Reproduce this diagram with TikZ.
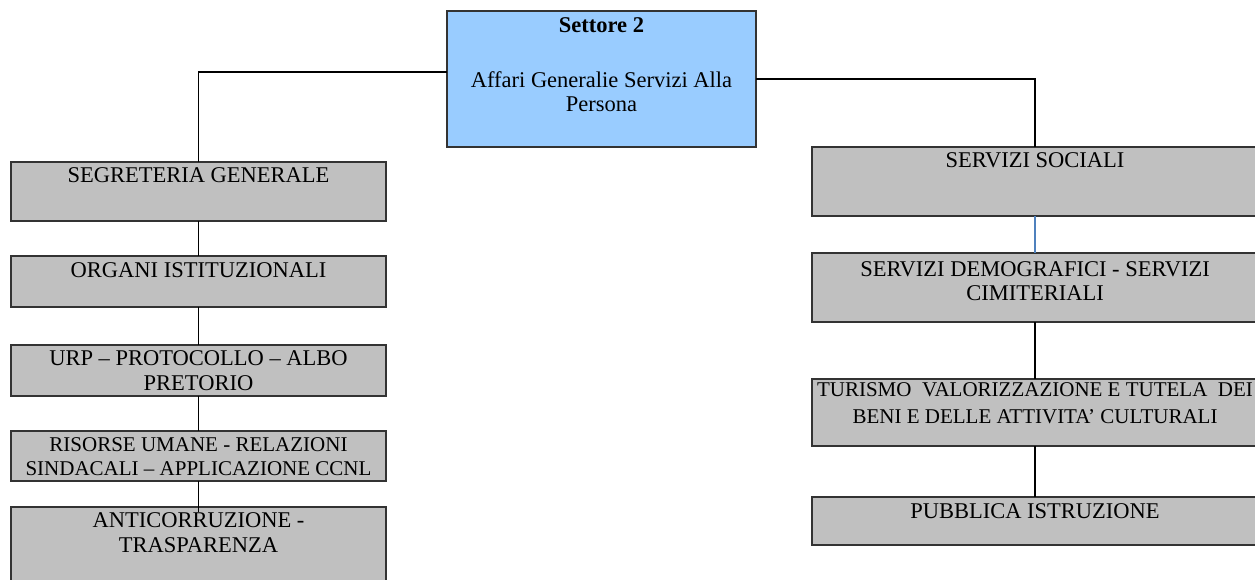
\documentclass[tikz,border=0pt]{standalone}
\usepackage{fontspec}
\setmainfont{Liberation Serif}
\definecolor{boxgray}{HTML}{C0C0C0}
\definecolor{boxblue}{HTML}{99CCFF}
\definecolor{linkblue}{HTML}{4F81BD}
\tikzset{
    RB1/.style ={rectangle, draw=black!80, line width=1.3pt, fill=boxgray, anchor=north, align=center, minimum width=375pt, inner xsep=2pt, inner ysep=0pt, outer sep=0pt, text height=21pt, font=\fontsize{22.5}{25}\selectfont},
    RB2/.style ={RB1, fill=boxblue, minimum width=309pt},
    RB3/.style ={RB1, minimum width=446pt},
    SM/.style ={font=\fontsize{21}{24}\selectfont},
    LN/.style ={line width=1.1pt}}

\begin{document}
\begin{tikzpicture}[x=1pt,y=-1pt]
        \useasboundingbox (0,0) rectangle (1255,580);
        \clip (0,0) rectangle (1255,580);
        \node[RB2, text height=101pt, text depth=35pt] (1) at(601.5,11){\textbf{Settore 2}\\[30pt]Affari Generalie Servizi Alla\\[-1pt]Persona};
        \node[RB1, text depth=38pt] (2) at(198.5,162){SEGRETERIA GENERALE};
        \node[RB1, text depth=30pt] (3) at(198.5,256){ORGANI ISTITUZIONALI};
        \node[RB1, text height=45pt, text depth=6pt] (4) at(198.5,345){URP -- PROTOCOLLO -- ALBO\\PRETORIO};
        \node[RB1, SM, text height=44pt, text depth=6pt] (5) at(198.5,431){RISORSE UMANE - RELAZIONI\\SINDACALI -- APPLICAZIONE CCNL};
        \node[RB1, text height=45pt, text depth=35pt] (6) at(198.5,507){ANTICORRUZIONE -\\TRASPARENZA};
        \node[RB3, text depth=48pt] (7) at(1035,147){SERVIZI SOCIALI};
        \node[RB3, text height=47pt, text depth=22pt] (8) at(1035,253){SERVIZI DEMOGRAFICI - SERVIZI\\[-1.5pt]CIMITERIALI};
        \node[RB3, SM, text height=44pt, text depth=23pt] (9) at(1035,379){TURISMO\ \ VALORIZZAZIONE E TUTELA\ \ DEI\\[2.5pt]BENI E DELLE ATTIVITA’ CULTURALI};
        \node[RB3, text depth=27pt] (10) at(1035,497){PUBBLICA ISTRUZIONE};
        \draw[LN] ([yshift=7pt]1.west) -| (2.north);
        \draw[LN] (1.east) -| (7.north);
        \draw[LN] (2.south) -- (3.north);
        \draw[LN] (3.south) -- (4.north);
        \draw[LN] (4.south) -- (5.north);
        \draw[LN] (5.south) -- ([yshift=-5pt]6.north);
        \draw[LN, linkblue] (7.south) -- (8.north);
        \draw[LN] (8.south) -- (9.north);
        \draw[LN] (9.south) -- (10.north);
    \end{tikzpicture}
\end{document}
